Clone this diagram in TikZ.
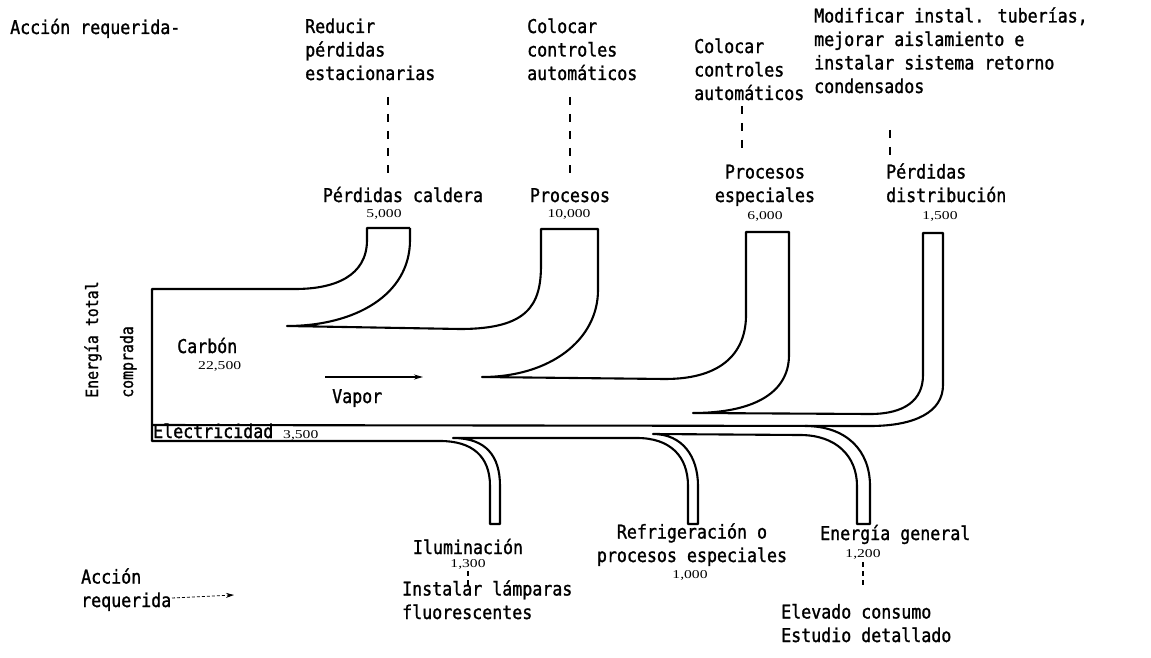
\documentclass[tikz,border=0pt]{standalone}
\usepackage{fontspec}
\usetikzlibrary{arrows.meta}
\newfontfamily\twfam[FakeStretch=0.875, FakeBold=1.2]{DejaVu Sans Mono}
\newfontfamily\numfam[FakeStretch=1.3]{Liberation Serif}
\newcommand{\twfont}{\twfam\fontsize{19}{23.5}\selectfont}
\newcommand{\twsmall}{\twfam\fontsize{17}{20}\selectfont}
\newcommand{\numfont}{\numfam\fontsize{12}{14}\selectfont}
\begin{document}
\begin{tikzpicture}[x=1pt,y=-1pt,
  tw/.style={font=\twfont, inner sep=0pt},
  twr/.style={font=\twsmall, inner sep=0pt, rotate=90, anchor=base west},
  num/.style={font=\numfont, inner sep=0pt, anchor=base},
  flow/.style={line width=2.1pt, line join=round},
  guide/.style={line width=1.3pt, dash pattern=on 8pt off 9pt},
  shortguide/.style={line width=1.3pt, dash pattern=on 5pt off 4pt},
  vap/.style={line width=1.4pt, -{Stealth[length=9pt,width=5pt]}},
  dotarrow/.style={line width=0.8pt, densely dashed, -{Stealth[length=8pt,width=5pt]}}]
\useasboundingbox (0,0) rectangle (1151,658);
\fill[white] (0,0) rectangle (1151,658);

% ---- flows ----
\draw[flow] (410,228) -- (367,228) -- (367,240)
  .. controls (367,276) and (335,289) .. (295,289) -- (152,289) -- (152,441)
  -- (440,441) .. controls (472,441) and (490,456) .. (490,486) -- (490,524)
  -- (500,524) -- (500,486) .. controls (500,456) and (486,438) .. (453,438)
  -- (637,438) .. controls (670,438) and (688,456) .. (688,486) -- (688,524)
  -- (698,524) -- (698,486) .. controls (698,456) and (682,434) .. (653,434)
  -- (800,435) .. controls (836,435) and (857,456) .. (857,486) -- (857,524)
  -- (870,524) -- (870,486) .. controls (870,450) and (846,426) .. (805,426);
\draw[flow] (410,228) -- (410,240)
  .. controls (410,295) and (355,326) .. (287,326) -- (460,329)
  .. controls (528,329) and (541,305) .. (541,265) -- (541,229) -- (598,229)
  -- (598,290) .. controls (598,340) and (550,377) .. (482,377) -- (665,379)
  .. controls (725,379) and (746,350) .. (746,315) -- (746,232) -- (789,232)
  -- (789,355) .. controls (789,395) and (750,413) .. (693,413) -- (870,414)
  .. controls (905,414) and (923,400) .. (923,375) -- (923,233) -- (943,233)
  -- (943,385) .. controls (943,412) and (915,426) .. (870,426) -- (152,425);

% ---- top texts (multi-line nodes: base = last line) ----
\node[tw, anchor=base west] (accion) at (10,34) {Acción requerida-};
\node[tw, align=left, anchor=base west] (redu) at (305,80) {Reducir\\pérdidas\\estacionarias};
\node[tw, align=left, anchor=base west] (col1) at (527,80) {Colocar\\controles\\automáticos};
\node[tw, align=left, anchor=base west] (col2) at (694,100) {Colocar\\controles\\automáticos};
\node[tw, align=left, anchor=base west] (modi) at (814,93) {Modificar instal. tuberías,\\mejorar aislamiento e\\instalar sistema retorno\\condensados};

\node[tw, anchor=base] (caldera) at (403,202) {Pérdidas caldera};
\node[num] (n5000) at (384,217) {5,000};
\node[tw, anchor=base] (proc) at (570,202) {Procesos};
\node[num] (n10000) at (569,217) {10,000};
\node[tw, align=center, anchor=base] (pesp) at (765,202) {Procesos\\especiales};
\node[num] (n6000) at (765,219) {6,000};
\node[tw, align=left, anchor=base west] (pdist) at (886,202) {Pérdidas\\distribución};
\node[num] (n1500) at (940,219) {1,500};

% dashed guides
\coordinate (g1a) at (388,97);  \coordinate (g1b) at (388,180);
\coordinate (g2a) at (570,97);  \coordinate (g2b) at (570,180);
\coordinate (g3a) at (742,106); \coordinate (g3b) at (742,150);
\coordinate (g4a) at (890,130); \coordinate (g4b) at (890,156);
\draw[guide] (g1a) -- (g1b);
\draw[guide] (g2a) -- (g2b);
\draw[guide] (g3a) -- (g3b);
\draw[guide] (g4a) -- (g4b);

% ---- inside ----
\node[twr] (etot) at (98,398) {Energía total};
\node[twr] (compr) at (133,398) {comprada};
\node[tw, anchor=base west] (carbon) at (177,353) {Carbón};
\node[num, anchor=base west] (n22500) at (198,369) {22,500};
\coordinate (va) at (325,377); \coordinate (vb) at (423,377);
\draw[vap] (va) -- (vb);
\node[tw, anchor=base west] (vapor) at (332,403) {Vapor};
\node[tw, anchor=base west] (elec) at (153,438) {Electricidad};
\node[num, anchor=base west] (n3500) at (283,438) {3,500};

% ---- bottom texts ----
\node[tw, anchor=base] (ilum) at (468,554) {Iluminación};
\node[num] (n1300) at (468,567) {1,300};
\node[tw, align=center, anchor=base] (refr) at (692,562) {Refrigeración o\\procesos especiales};
\node[num] (n1000) at (690,578) {1,000};
\node[tw, anchor=base west] (egen) at (820,540) {Energía general};
\node[num] (n1200) at (863,557) {1,200};

\coordinate (g5a) at (468,571); \coordinate (g5b) at (468,589);
\coordinate (g6a) at (863,562); \coordinate (g6b) at (863,588);
\draw[shortguide] (g5a) -- (g5b);
\draw[shortguide] (g6a) -- (g6b);

\node[tw, align=left, anchor=base west] (lamp) at (402,619) {Instalar lámparas\\fluorescentes};
\node[tw, align=left, anchor=base west] (elev) at (781,642) {Elevado consumo\\Estudio detallado};
\node[tw, align=left, anchor=base west] (accb) at (81,607) {Acción\\requerida};
\coordinate (ara) at (172,598); \coordinate (arb) at (234,595);
\draw[dotarrow] (ara) -- (arb);
\end{tikzpicture}
\end{document}
